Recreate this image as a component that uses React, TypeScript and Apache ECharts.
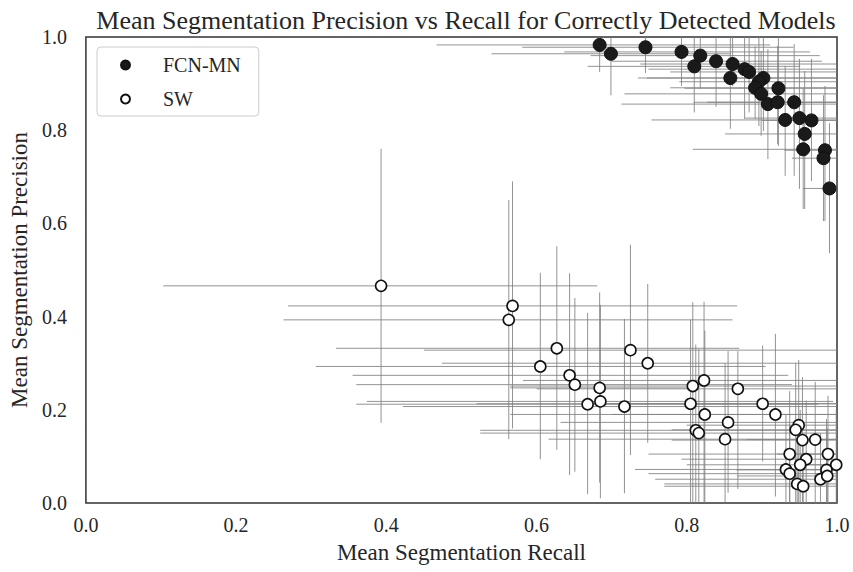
import React, { useEffect, useRef } from "react";
import * as echarts from "echarts";

// FCN-MN: mean recall, mean precision and error-bar extents
const fcnRecall = [0.684, 0.699, 0.745, 0.793, 0.818, 0.810, 0.839, 0.861, 0.858, 0.877, 0.883, 0.902, 0.896, 0.891, 0.899, 0.922, 0.908, 0.921, 0.943, 0.931, 0.950, 0.966, 0.957, 0.955, 0.984, 0.982, 0.990];
const fcnPrecision = [0.983, 0.964, 0.978, 0.968, 0.960, 0.937, 0.948, 0.942, 0.912, 0.931, 0.925, 0.912, 0.904, 0.891, 0.878, 0.890, 0.856, 0.860, 0.860, 0.822, 0.826, 0.821, 0.792, 0.759, 0.757, 0.740, 0.675];
const fcnRecallLo = [0.467, 0.540, 0.581, 0.637, 0.672, 0.668, 0.700, 0.738, 0.735, 0.749, 0.778, 0.747, 0.790, 0.778, 0.717, 0.797, 0.713, 0.809, 0.827, 0.753, 0.878, 0.900, 0.851, 0.808, 0.930, 0.940, 0.955];
const fcnRecallHi = [0.911, 0.858, 0.942, 0.964, 0.977, 0.951, 0.980, 1.0, 1.0, 1.0, 1.0, 1.0, 1.0, 1.0, 1.0, 1.0, 1.0, 1.0, 1.0, 1.0, 1.0, 1.0, 1.0, 1.0, 1.0, 1.0, 1.0];
const fcnPrecisionLo = [0.925, 0.875, 0.923, 0.895, 0.889, 0.838, 0.850, 0.895, 0.803, 0.824, 0.838, 0.798, 0.809, 0.824, 0.788, 0.766, 0.738, 0.770, 0.702, 0.702, 0.674, 0.691, 0.631, 0.631, 0.605, 0.605, 0.536];
const fcnPrecisionHi = [1.0, 1.0, 1.0, 1.0, 1.0, 1.0, 1.0, 1.0, 1.0, 1.0, 1.0, 1.0, 1.0, 0.980, 0.970, 1.0, 0.974, 0.981, 0.985, 0.938, 0.953, 0.953, 0.927, 0.890, 0.895, 0.875, 0.815];

// SW: mean recall, mean precision and error-bar extents
const swRecall = [0.393, 0.568, 0.563, 0.627, 0.605, 0.644, 0.651, 0.725, 0.748, 0.684, 0.685, 0.668, 0.717, 0.808, 0.823, 0.805, 0.868, 0.824, 0.812, 0.816, 0.855, 0.851, 0.901, 0.918, 0.949, 0.945, 0.954, 0.971, 0.937, 0.959, 0.951, 0.988, 0.999, 0.932, 0.937, 0.986, 0.978, 0.987, 0.947, 0.955];
const swPrecision = [0.466, 0.423, 0.393, 0.332, 0.293, 0.274, 0.254, 0.328, 0.300, 0.247, 0.218, 0.212, 0.207, 0.251, 0.263, 0.213, 0.245, 0.190, 0.156, 0.150, 0.173, 0.137, 0.213, 0.190, 0.167, 0.157, 0.135, 0.136, 0.105, 0.094, 0.082, 0.105, 0.082, 0.072, 0.063, 0.071, 0.051, 0.058, 0.041, 0.036];
const swRecallLo = [0.103, 0.269, 0.263, 0.333, 0.306, 0.355, 0.360, 0.450, 0.474, 0.565, 0.374, 0.360, 0.422, 0.565, 0.582, 0.520, 0.600, 0.565, 0.525, 0.525, 0.632, 0.616, 0.690, 0.700, 0.800, 0.780, 0.780, 0.880, 0.749, 0.793, 0.800, 0.920, 0.950, 0.731, 0.749, 0.866, 0.758, 0.867, 0.770, 0.770];
const swRecallHi = [0.681, 0.867, 0.861, 0.870, 0.905, 0.935, 0.940, 1.0, 1.0, 0.803, 0.995, 0.975, 1.0, 1.0, 1.0, 1.0, 1.0, 1.0, 1.0, 1.0, 1.0, 1.0, 1.0, 1.0, 1.0, 1.0, 1.0, 1.0, 1.0, 1.0, 1.0, 1.0, 1.0, 1.0, 1.0, 1.0, 1.0, 1.0, 1.0, 1.0];
const swPrecisionLo = [0.172, 0.160, 0.137, 0.114, 0.094, 0.060, 0.067, 0.103, 0.129, 0.044, 0.010, 0.019, 0.021, 0.0, 0.0, 0.0, 0.030, 0.0, 0.0, 0.0, 0.022, 0.0, 0.089, 0.014, 0.0, 0.0, 0.0, 0.0, 0.0, 0.0, 0.0, 0.0, 0.0, 0.0, 0.0, 0.0, 0.0, 0.0, 0.0, 0.0];
const swPrecisionHi = [0.760, 0.690, 0.650, 0.551, 0.494, 0.493, 0.440, 0.554, 0.470, 0.452, 0.425, 0.408, 0.395, 0.431, 0.432, 0.393, 0.326, 0.370, 0.340, 0.330, 0.326, 0.300, 0.338, 0.363, 0.307, 0.300, 0.270, 0.260, 0.240, 0.220, 0.200, 0.230, 0.200, 0.190, 0.170, 0.180, 0.150, 0.160, 0.140, 0.130];

const seriesNames = ["FCN-MN", "SW"];
const axisTicks = [0, 0.2, 0.4, 0.6, 0.8, 1.0];

const FONT = "'Liberation Serif', 'DejaVu Serif', serif";

function build(xs: number[], ys: number[], xl: number[], xh: number[], yl: number[], yh: number[]) {
  return xs.map((x, i) => [x, ys[i], xl[i], xh[i], yl[i], yh[i]]);
}

const clamp = (v: number) => Math.max(0, Math.min(1, v));

function errorRender(params: any, api: any) {
  const x = api.value(0);
  const y = api.value(1);
  const pL = api.coord([clamp(api.value(2)), y]);
  const pR = api.coord([clamp(api.value(3)), y]);
  const pB = api.coord([x, clamp(api.value(4))]);
  const pT = api.coord([x, clamp(api.value(5))]);
  const style = { stroke: "rgba(128,128,128,0.85)", lineWidth: 1 };
  return {
    type: "group",
    children: [
      { type: "line", shape: { x1: pL[0], y1: pL[1], x2: pR[0], y2: pR[1] }, style },
      { type: "line", shape: { x1: pB[0], y1: pB[1], x2: pT[0], y2: pT[1] }, style },
    ],
  };
}

export default function App() {
  const ref = useRef<HTMLDivElement>(null);
  useEffect(() => {
    if (!ref.current) return;
    const chart = echarts.init(ref.current, null, { renderer: "svg" });
    const fcnData = build(fcnRecall, fcnPrecision, fcnRecallLo, fcnRecallHi, fcnPrecisionLo, fcnPrecisionHi);
    const swData = build(swRecall, swPrecision, swRecallLo, swRecallHi, swPrecisionLo, swPrecisionHi);
    const axisCommon = {
      type: "value",
      min: axisTicks[0],
      max: axisTicks[axisTicks.length - 1],
      interval: 0.2,
      splitLine: { show: false },
      axisLine: { show: false },
      axisTick: { show: false },
      nameLocation: "middle",
      nameTextStyle: { fontFamily: FONT, fontSize: 23, color: "#262626" },
    };
    chart.setOption({
      animation: false,
      backgroundColor: "#ffffff",
      title: {
        text: "Mean Segmentation Precision vs Recall for Correctly Detected Models",
        left: 461,
        top: 2,
        textAlign: "center",
        textStyle: { fontFamily: FONT, fontSize: 26, fontWeight: "normal", color: "#262626" },
      },
      legend: {
        data: seriesNames,
        left: 97,
        top: 47,
        orient: "vertical",
        icon: "circle",
        itemWidth: 9,
        itemHeight: 9,
        itemGap: 14,
        padding: [8, 18, 7, 23],
        borderColor: "#cccccc",
        borderWidth: 1,
        borderRadius: 4,
        backgroundColor: "#ffffff",
        textStyle: { fontFamily: FONT, fontSize: 20, color: "#262626", padding: [0, 0, 0, 28] },
      },
      grid: {
        left: 85,
        right: 16,
        top: 37,
        bottom: 69,
        show: true,
        borderColor: "#333333",
        borderWidth: 1.5,
        backgroundColor: "transparent",
      },
      xAxis: {
        ...axisCommon,
        name: "Mean Segmentation Recall",
        nameGap: 38,
        axisLabel: { fontFamily: FONT, fontSize: 20, color: "#262626", margin: 12, formatter: (v: number) => v.toFixed(1) },
      },
      yAxis: {
        ...axisCommon,
        name: "Mean Segmentation Precision",
        nameGap: 50,
        axisLabel: { fontFamily: FONT, fontSize: 20, color: "#262626", margin: 19, formatter: (v: number) => v.toFixed(1) },
      },
      series: [
        { type: "custom", name: "FCN-MN bars", renderItem: errorRender, data: fcnData, z: 1, silent: true },
        { type: "custom", name: "SW bars", renderItem: errorRender, data: swData, z: 1, silent: true },
        {
          type: "scatter",
          name: "FCN-MN",
          data: fcnData.map((d) => [d[0], d[1]]),
          symbolSize: 13,
          itemStyle: { color: "#1a1a1a", borderColor: "#111111", borderWidth: 1, opacity: 1 },
          z: 3,
        },
        {
          type: "scatter",
          name: "SW",
          data: swData.map((d) => [d[0], d[1]]),
          symbolSize: 11,
          itemStyle: { color: "#ffffff", borderColor: "#111111", borderWidth: 1.6, opacity: 1 },
          z: 4,
        },
      ],
    });
    return () => chart.dispose();
  }, []);
  return <div ref={ref} style={{ position: "fixed", left: 0, top: 0, width: 853, height: 572 }} />;
}
